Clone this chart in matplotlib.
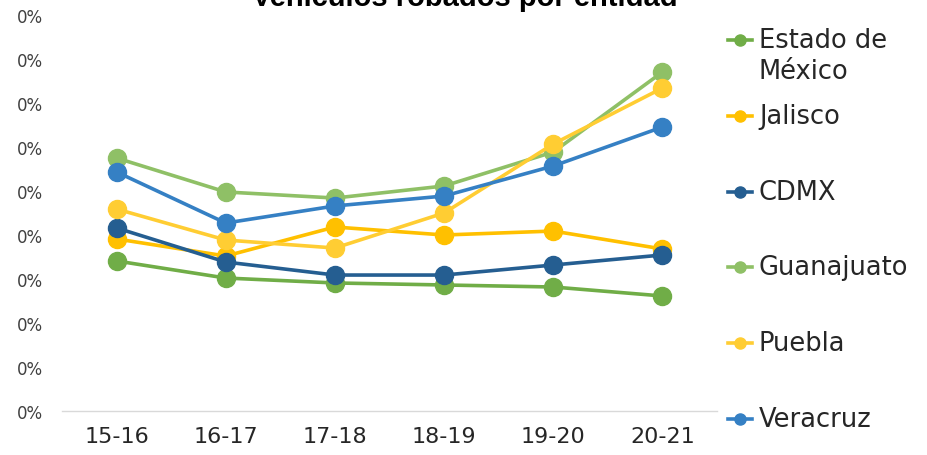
import matplotlib
matplotlib.use("Agg")
import matplotlib.pyplot as plt
from matplotlib.lines import Line2D
from matplotlib.ticker import PercentFormatter, MultipleLocator

periodos = ["15-16", "16-17", "17-18", "18-19", "19-20", "20-21"]

edomex = [0.001705, 0.001511, 0.001455, 0.001432, 0.001409, 0.001307]
jalisco = [0.001955, 0.001761, 0.002091, 0.002000, 0.002045, 0.001841]
cdmx = [0.002080, 0.001693, 0.001545, 0.001545, 0.001659, 0.001773]
guanajuato = [0.002875, 0.002489, 0.002420, 0.002557, 0.002943, 0.003852]
puebla = [0.002295, 0.001943, 0.001852, 0.002250, 0.003034, 0.003670]
veracruz = [0.002716, 0.002136, 0.002330, 0.002443, 0.002784, 0.003227]

series = [
    ("Estado de\nMéxico", edomex, "#70AD47"),
    ("Jalisco", jalisco, "#FFC000"),
    ("CDMX", cdmx, "#255E91"),
    ("Guanajuato", guanajuato, "#8FC066"),
    ("Puebla", puebla, "#FFCD33"),
    ("Veracruz", veracruz, "#3580C4"),
]

W, H = 928, 456
fig = plt.figure(figsize=(W / 100, H / 100), dpi=100)
ax = fig.add_axes([62 / W, 1 - 412 / H, (717 - 62) / W, (412 - 16) / H])

x = range(len(periodos))
for nombre, vals, color in series:
    ax.plot(x, vals, color=color, lw=2.6, marker="o", markersize=13)

ax.set_xlim(-0.5, len(periodos) - 0.5)
ax.set_ylim(0, 0.0045)
ax.yaxis.set_major_locator(MultipleLocator(0.0005))
ax.yaxis.set_major_formatter(PercentFormatter(xmax=1, decimals=0))
ax.set_xticks(list(x))
ax.set_xticklabels(periodos)

for s in ["top", "right", "left"]:
    ax.spines[s].set_visible(False)
ax.spines["bottom"].set_color("#D9D9D9")
ax.spines["bottom"].set_linewidth(1)
ax.tick_params(axis="y", length=0, pad=14, labelsize=12, labelcolor="#404040")
ax.tick_params(axis="x", length=0, pad=11, labelsize=16, labelcolor="#262626")

# titulo (cortado arriba como en el original)
fig.text(465 / W, 450 / H, "Vehículos robados por entidad",
         ha="center", va="baseline", fontsize=21, fontweight="bold",
         family="Liberation Sans")

# leyenda a mano: el marcador va con la primera linea del texto
y0, paso = 41, 75.8
for i, (nombre, vals, color) in enumerate(series):
    yy = 1 - (y0 + i * paso) / H
    fig.add_artist(Line2D([728 / W, 752 / W], [yy, yy], color=color, lw=2.6,
                          transform=fig.transFigure))
    fig.add_artist(Line2D([740 / W], [yy], color=color, marker="o",
                          markersize=8, transform=fig.transFigure))
    lineas = nombre.split("\n")
    for j, linea in enumerate(lineas):
        fig.text(759 / W, yy - j * 31 / H, linea, ha="left", va="center",
                 fontsize=18.5, color="#262626")

fig.savefig("out.png", dpi=100)
